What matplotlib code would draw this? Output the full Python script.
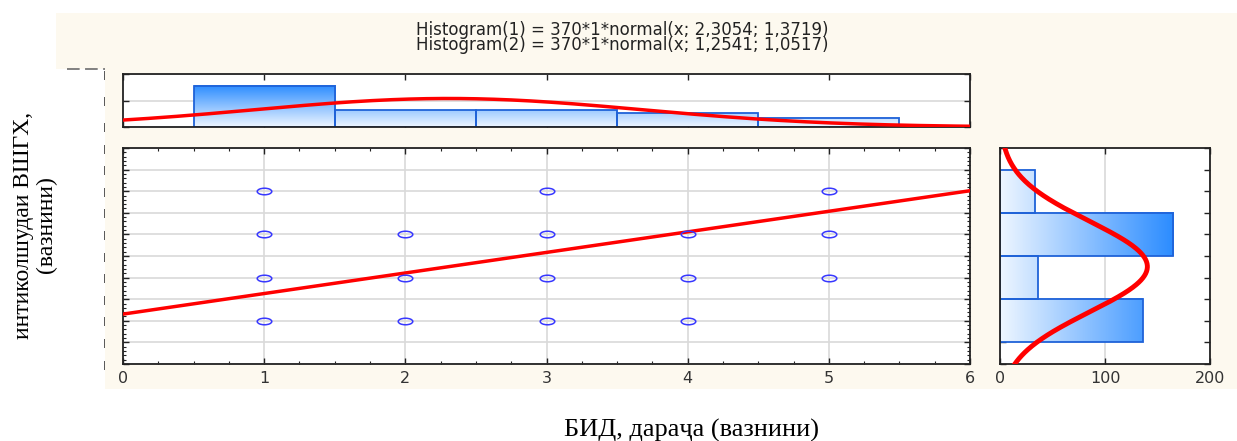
import numpy as np
import matplotlib.pyplot as plt
from matplotlib.patches import Rectangle
from matplotlib.lines import Line2D
from matplotlib.path import Path
from matplotlib.transforms import Affine2D
from matplotlib.colors import LinearSegmentedColormap
from matplotlib.ticker import MultipleLocator

# scatter points (unique pairs shown on the plot)
x_points = [1, 3, 5, 1, 2, 3, 4, 5, 1, 2, 3, 4, 5, 1, 2, 3, 4]
y_points = [3, 3, 3, 2, 2, 2, 2, 2, 1, 1, 1, 1, 1, 0, 0, 0, 0]

# marginal histograms
x_bins = [1, 2, 3, 4, 5]
x_counts = [156, 64, 64, 52, 34]
y_bins = [0, 1, 2, 3]
y_counts = [136, 36, 165, 33]

# fitted normal curves (from the title) and regression line
n_total = 370
x_mean, x_sd = 2.3054, 1.3719
y_mean, y_sd = 1.2541, 1.0517
intercept, slope = 0.155, 0.476

title_lines = ["Histogram(1) = 370*1*normal(x; 2,3054; 1,3719)",
               "Histogram(2) = 370*1*normal(x; 1,2541; 1,0517)"]
x_label = "БИД, дараҷа (вазнини)"
y_label = "интиколшудаи ВШГХ,\n(вазнини)"

W, H = 1237, 441
cream = '#fdf9ef'
bar_edge = '#1f62d8'
grid_c = '#d9d9d9'
cmap = LinearSegmentedColormap.from_list('bars', ['#eef6ff', '#2b8cff'])
sans = ['DejaVu Sans']
serif = ['Liberation Serif', 'DejaVu Serif']


def fx(px):
    return px / W


def fy(py):
    return 1 - py / H


def normal(v, m, s):
    return n_total * 1 * np.exp(-0.5 * ((v - m) / s) ** 2) / (s * np.sqrt(2 * np.pi))


fig = plt.figure(figsize=(W / 100, H / 100), dpi=100)
fig.patch.set_facecolor('white')

# background panel
fig.patches.append(Rectangle((fx(56), fy(389)), fx(1237) - fx(56), fy(13) - fy(389),
                             transform=fig.transFigure, facecolor=cream, edgecolor='none', zorder=-10))
fig.patches.append(Rectangle((0, fy(389)), fx(105), fy(69) - fy(389),
                             transform=fig.transFigure, facecolor='white', edgecolor='none', zorder=-9))
fig.lines.append(Line2D([fx(67), fx(105)], [fy(69), fy(69)], transform=fig.transFigure,
                        color='#777777', lw=1.3, dashes=(7, 3)))

ax_top = fig.add_axes([fx(123), fy(127), fx(970) - fx(123), fy(74) - fy(127)])
ax = fig.add_axes([fx(123), fy(364), fx(970) - fx(123), fy(148) - fy(364)])
ax_r = fig.add_axes([fx(1000), fy(364), fx(1210) - fx(1000), fy(148) - fy(364)])


def style(a):
    a.set_facecolor('white')
    a.set_axisbelow(True)
    for sp in a.spines.values():
        sp.set_color('#222222')
        sp.set_linewidth(1.3)
    a.tick_params(which='both', direction='in', colors='#222222', labelcolor='#333333',
                  top=True, right=True, labelsize=11.5)
    a.tick_params(which='major', length=4, width=1)
    a.tick_params(which='minor', length=2.5, width=0.8)


# ---- top histogram ----
style(ax_top)
hmax = max(x_counts)
for b, c in zip(x_bins, x_counts):
    grad = np.linspace(0, c / hmax, 256).reshape(-1, 1)
    ax_top.imshow(grad, extent=[b - 0.5, b + 0.5, 0, c], origin='lower', aspect='auto',
                  cmap=cmap, vmin=0, vmax=1, zorder=1)
ax_top.bar(x_bins, x_counts, width=1, fill=False, edgecolor=bar_edge, lw=1.3, zorder=2)
xs = np.linspace(0, 6, 300)
ax_top.plot(xs, normal(xs, x_mean, x_sd), color='red', lw=2.5, zorder=3)
ax_top.set_xlim(0, 6)
ax_top.set_ylim(0, 200)
ax_top.set_xticks(range(0, 7))
ax_top.set_yticks([0, 100, 200])
ax_top.set_xticklabels([])
ax_top.set_yticklabels(['|'] * 3, fontsize=5.5, color='#444444', fontweight='bold')
ax_top.tick_params(axis='y', pad=12)
ax_top.grid(axis='y', color=grid_c, lw=1.2)

# ---- scatter ----
style(ax)
ax.plot([0, 6], [intercept, intercept + slope * 6], color='red', lw=2.5, zorder=3)
ell = Path.unit_circle().transformed(Affine2D().scale(1.0, 0.45))
ax.plot(x_points, y_points, ls='none', marker=ell, markersize=10.5, mfc='none',
        mec='#3838ff', mew=1.1, zorder=4)
ax.set_xlim(0, 6)
ax.set_ylim(-1, 4)
ax.xaxis.set_major_locator(MultipleLocator(1))
ax.xaxis.set_minor_locator(MultipleLocator(0.25))
ax.yaxis.set_major_locator(MultipleLocator(0.5))
ax.yaxis.set_minor_locator(MultipleLocator(0.1))
ax.set_yticks(np.arange(-1, 4.01, 0.5))
ax.set_yticklabels(['|'] * 11, fontsize=5.5, color='#444444', fontweight='bold')
ax.tick_params(axis='y', pad=12)
ax.tick_params(axis='x', pad=5)
ax.grid(which='major', color=grid_c, lw=1.2)

# ---- right histogram ----
style(ax_r)
hmax_r = max(y_counts)
for b, c in zip(y_bins, y_counts):
    grad = np.linspace(0, c / hmax_r, 256).reshape(1, -1)
    ax_r.imshow(grad, extent=[0, c, b - 0.5, b + 0.5], origin='lower', aspect='auto',
                cmap=cmap, vmin=0, vmax=1, zorder=1)
ax_r.barh(y_bins, y_counts, height=1, fill=False, edgecolor=bar_edge, lw=1.3, zorder=2)
ys = np.linspace(-1, 4, 300)
ax_r.plot(normal(ys, y_mean, y_sd), ys, color='red', lw=3.5, zorder=3)
ax_r.set_xlim(0, 200)
ax_r.set_ylim(-1, 4)
ax_r.set_xticks([0, 100, 200])
ax_r.yaxis.set_major_locator(MultipleLocator(0.5))
ax_r.set_yticklabels([])
ax_r.tick_params(axis='x', pad=5)
ax_r.grid(axis='x', color=grid_c, lw=1.2)

# ---- texts ----
fig.text(fx(622), fy(37.5), "\n".join(title_lines), ha='center', va='center', fontsize=12,
         family=sans, color='#222222', linespacing=0.85)
fig.text(fx(692), fy(437), x_label, ha='center', va='baseline', fontsize=19, family=serif)
fig.text(fx(35), fy(225), y_label, ha='center', va='center', rotation=90,
         multialignment='center', fontsize=17, family=serif, linespacing=1.15)

fig.savefig('out.png', dpi=100)
